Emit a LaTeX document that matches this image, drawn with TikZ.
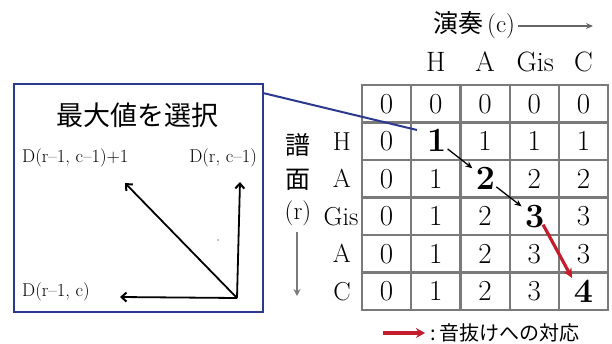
\documentclass[tikz,border=0pt]{standalone}
\usepackage{fontspec}
\newfontfamily\jp{Noto Sans CJK JP}
\usetikzlibrary{arrows.meta}
\definecolor{boxblue}{HTML}{2B3A8F}
\definecolor{gridgray}{HTML}{7A7A7A}
\definecolor{arrgray}{HTML}{666666}
\definecolor{legred}{HTML}{C41E2E}
\tikzset{
  cellnum/.style={font=\fontsize{29}{29}\selectfont, inner sep=1pt},
  boldnum/.style={font=\fontsize{34}{34}\selectfont\bfseries, inner sep=1pt},
  collbl/.style={font=\fontsize{28}{28}\selectfont, inner sep=0pt},
  rowlbl/.style={font=\fontsize{26}{26}\selectfont, inner sep=0pt},
  dlbl/.style={font=\fontsize{18.5}{18.5}\selectfont, inner sep=0pt},
  jptxt/.style={inner sep=0pt},
  pathto/.style={-{Stealth[length=7pt,width=6pt]}, line width=1.3pt, black},
  choice/.style={-{Straight Barb[length=5pt,width=9pt,line width=2pt]}, line width=1.8pt, black},
}
\begin{document}
\begin{tikzpicture}[x=1pt,y=-1pt]
\useasboundingbox (0,0) rectangle (612,343);
% grid
\foreach \y in {85,122.5,160,197.5,235,272.5,310}
  \draw[gridgray, line width=2.2pt] (361,\y) -- (609,\y);
\foreach \x in {362,411.2,460.4,509.6,558.8,608}
  \draw[gridgray, line width=2.2pt] (\x,84) -- (\x,311);
% cell values
\foreach \c/\v in {0/0,1/0,2/0,3/0,4/0}
  \node[cellnum] (n0\c) at ({362+49.2*(\c+0.5)},103.75) {\v};
\foreach \c/\v in {0/0,2/1,3/1,4/1}
  \node[cellnum] (n1\c) at ({362+49.2*(\c+0.5)},141.25) {\v};
\foreach \c/\v in {0/0,1/1,3/2,4/2}
  \node[cellnum] (n2\c) at ({362+49.2*(\c+0.5)},178.75) {\v};
\foreach \c/\v in {0/0,1/1,2/2,4/3}
  \node[cellnum] (n3\c) at ({362+49.2*(\c+0.5)},216.25) {\v};
\foreach \c/\v in {0/0,1/1,2/2,3/3,4/3}
  \node[cellnum] (n4\c) at ({362+49.2*(\c+0.5)},253.75) {\v};
\foreach \c/\v in {0/0,1/1,2/2,3/3}
  \node[cellnum] (n5\c) at ({362+49.2*(\c+0.5)},291.25) {\v};
\node[boldnum] (n11) at (436.8,140.5) {1};
\node[boldnum] (n22) at (485.5,178.5) {2};
\node[boldnum] (n33) at (534.7,216.5) {3};
\node[boldnum] (n54) at (583.4,291.5) {4};
\draw[pathto, shorten <=0pt, shorten >=3pt] (n11) -- (n22);
\draw[pathto, shorten <=0pt, shorten >=3pt] (n22) -- (n33);
\draw[legred, line width=3.2pt, -{Stealth[length=10pt,width=9pt]}, shorten <=-5pt, shorten >=1pt] (n33.south east) -- (n54.north west);
% column header
\node[jptxt, font=\fontsize{25}{25}\selectfont] (play) at (474,25) {{\jp 演奏}\,(c)};
\coordinate (playend) at (593,26);
\draw[arrgray, line width=1.3pt, -{Stealth[length=7pt,width=6pt]}] (play.east) ++(3,1) -- (playend);
\node[collbl] (cH) at (435.8,62) {H};
\node[collbl] (cA) at (485,62) {A};
\node[collbl] (cG) at (535.2,62) {Gis};
\node[collbl] (cC) at (583.4,62) {C};
% row header
\node[rowlbl] (rH) at (342,141.25) {H};
\node[rowlbl] (rA) at (342,178.75) {A};
\node[rowlbl] (rG) at (341,216.25) {Gis};
\node[rowlbl] (rA2) at (342,253.75) {A};
\node[rowlbl] (rC) at (342,291.25) {C};
\node[jptxt, font=\fontsize{25}{25}\selectfont\jp] (fu) at (298,145) {譜};
\node[jptxt, font=\fontsize{25}{25}\selectfont\jp] (men) at (298,180) {面};
\node[jptxt, font=\fontsize{25}{25}\selectfont] (rr) at (298,213) {(r)};
\coordinate (rdown) at (297,296);
\draw[gridgray, line width=2.2pt, -{Stealth[length=7pt,width=7pt]}] (297,232) -- (rdown);
% box
\node[draw=boxblue, line width=2pt, minimum width=249pt, minimum height=228pt, inner sep=0pt] (box) at (138.5,198) {};
\coordinate (bs) at (263,93);
\coordinate (be) at (417,130);
\draw[boxblue, line width=2pt] (bs) -- (be);
\node[jptxt, font=\fontsize{27}{27}\selectfont\jp] (title) at (137,115) {最大値を選択};
\node[dlbl, anchor=west] (d1) at (22,158) {D(r\textendash1, c\textendash1)+1};
\node[dlbl, anchor=east] (d2) at (257,158) {D(r, c\textendash1)};
\node[dlbl, anchor=west] (d3) at (22,292) {D(r\textendash1, c)};
\coordinate (o) at (237,298);
\coordinate (e1) at (125,183);
\coordinate (e2) at (240,182);
\coordinate (e3) at (120,297);
\draw[choice] (o) -- (e1);
\draw[choice] (o) -- (e2);
\draw[choice] (o) -- (e3);
\fill (218,240) circle (0.7pt);
% legend
\coordinate (la) at (383,333);
\coordinate (lb) at (425,333);
\draw[legred, line width=4pt, -{Stealth[length=9pt,width=10pt]}] (la) -- (lb);
\node[jptxt, anchor=west, font=\fontsize{20}{20}\selectfont\jp] (leg) at (430,333) {:\,音抜けへの対応};
\end{tikzpicture}
\end{document}
